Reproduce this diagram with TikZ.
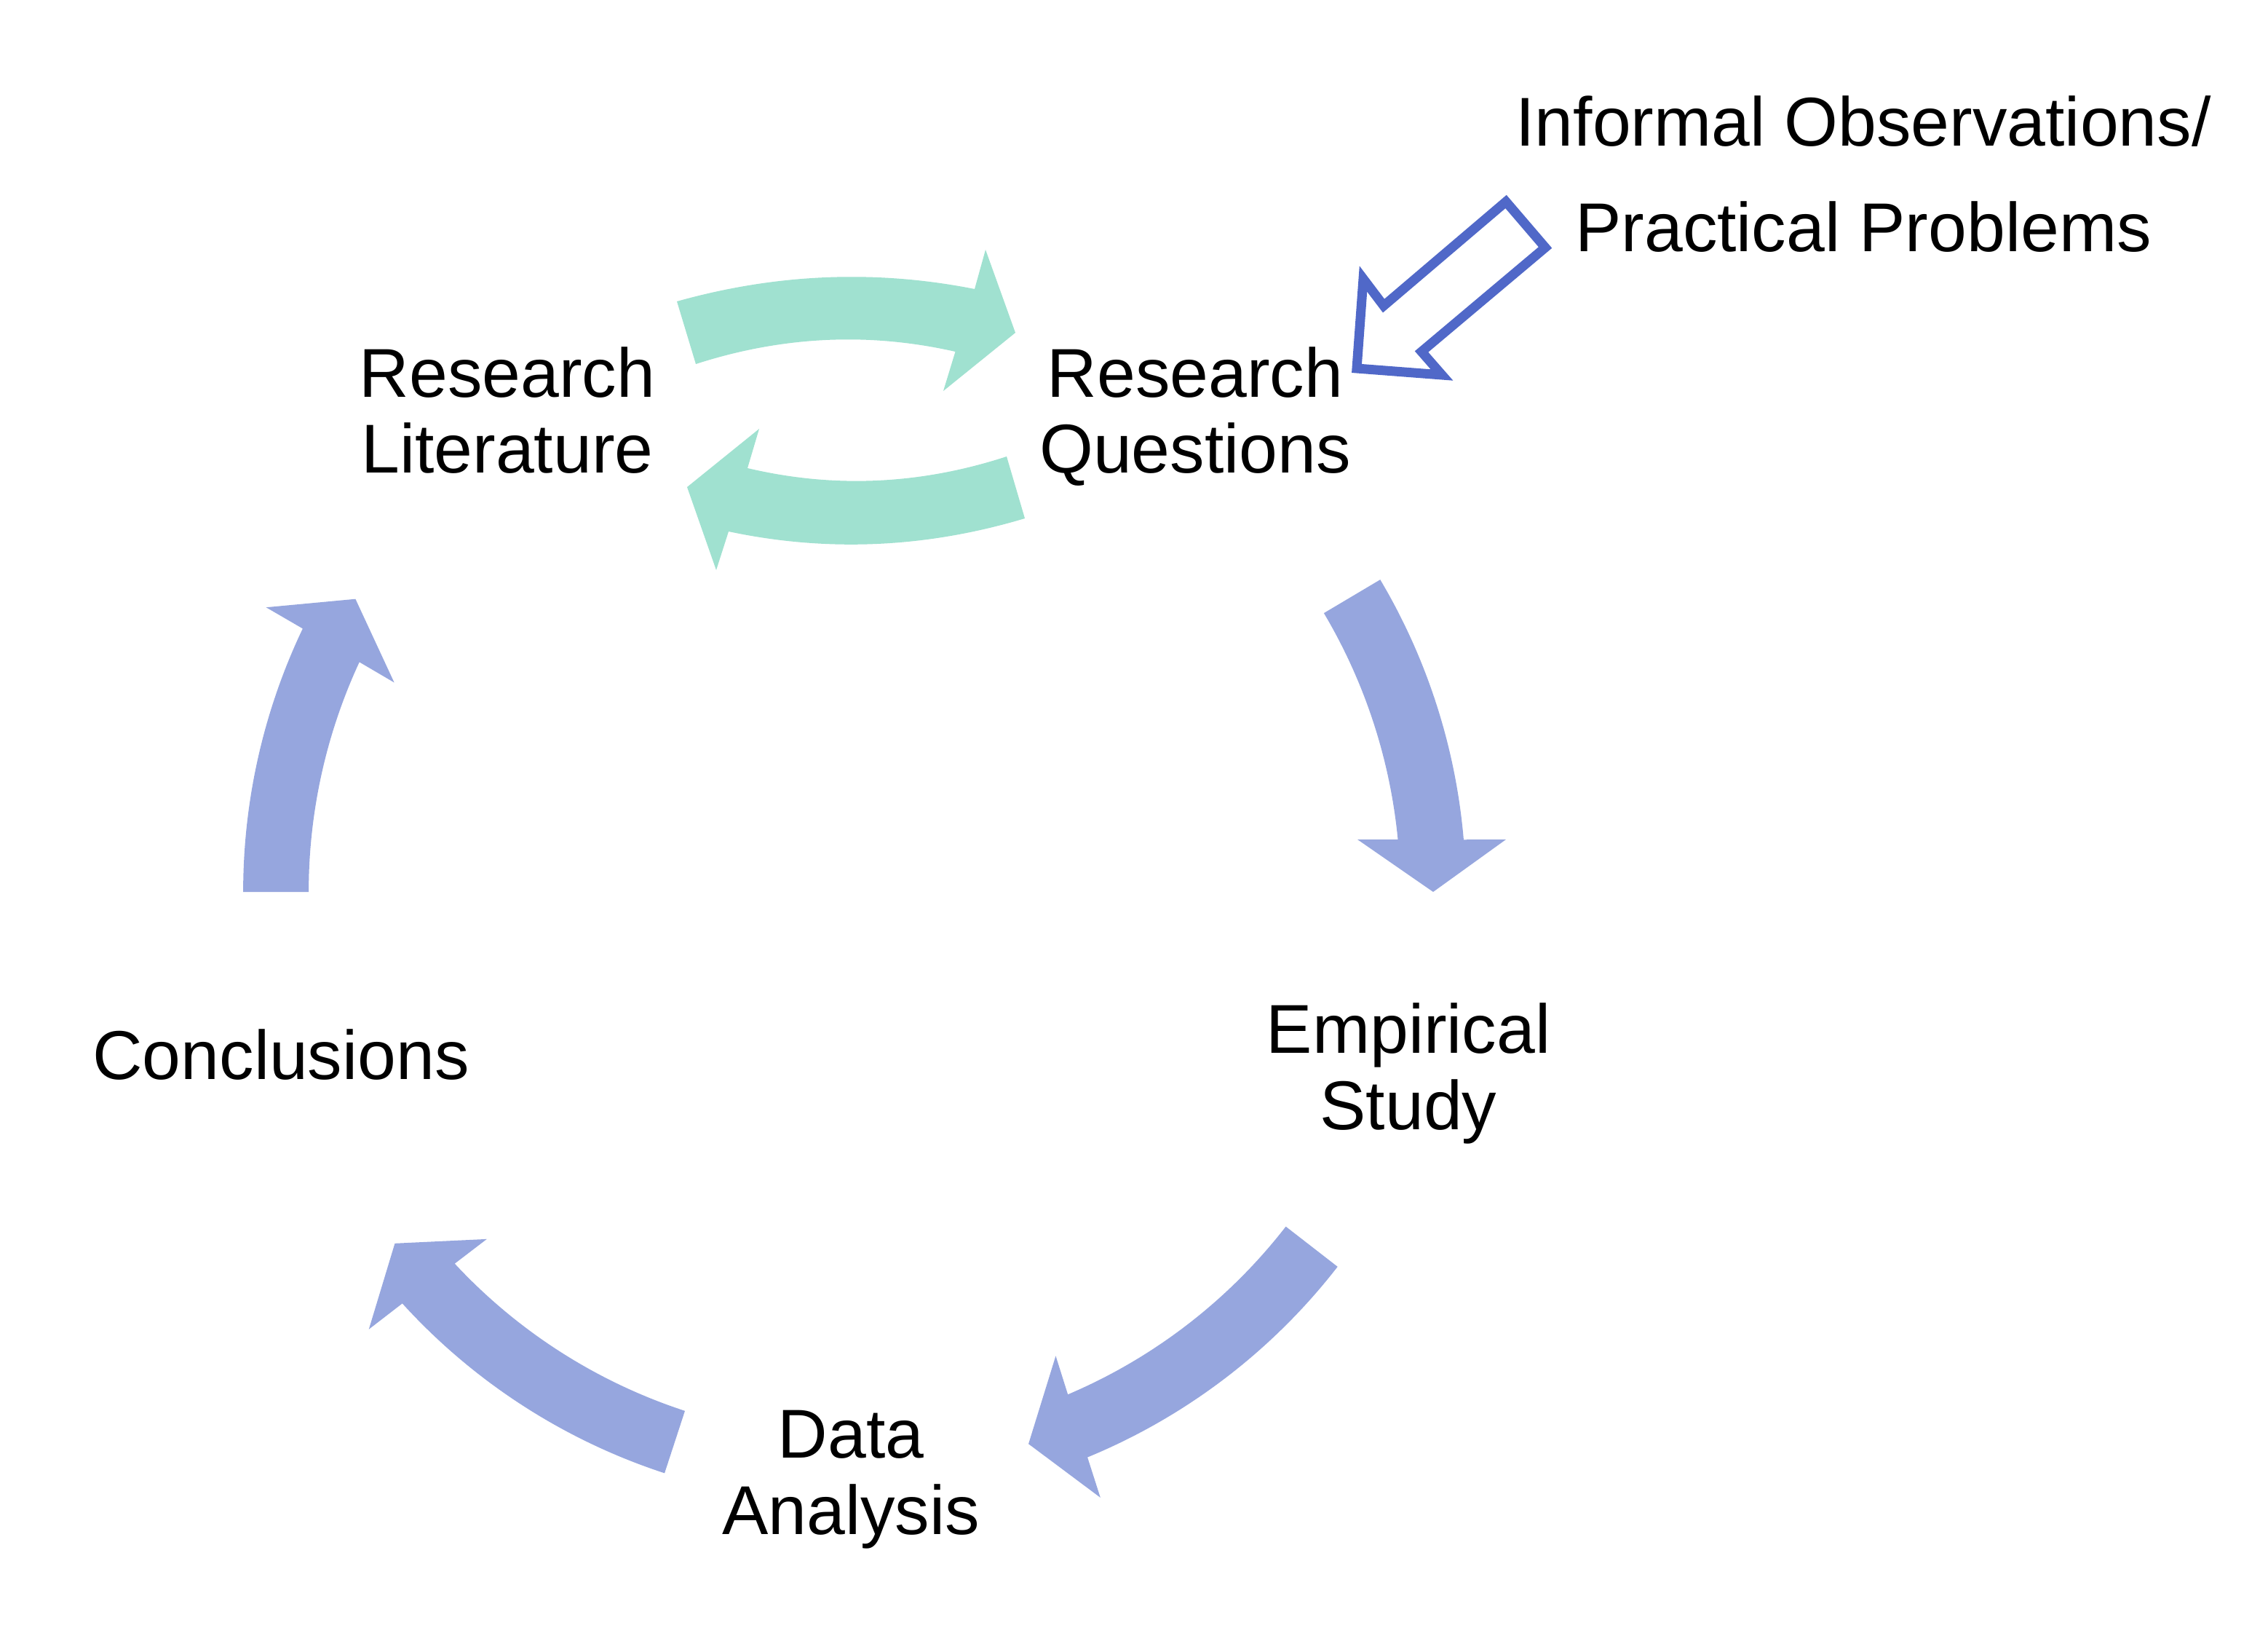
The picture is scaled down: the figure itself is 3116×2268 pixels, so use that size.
\documentclass[tikz,border=0pt]{standalone}
\usepackage{fontspec}
\setmainfont{Liberation Sans}
\definecolor{cycblue}{RGB}{150,166,222}
\definecolor{loopgreen}{RGB}{160,225,208}
\definecolor{outblue}{RGB}{80,104,200}
% #1 = tip angle, #2 = angular length of the shaft measured back from the tip
\newcommand{\cyclearrow}[2]{%
  \begin{scope}[rotate=#1]
    \fill[cyc] (#2:840) arc[start angle=#2, end angle=4.90, radius=840]
      -- (895,72) -- (795,0) -- (691,72) -- (746.5,72)
      arc[start angle=5.51, end angle=#2, radius=750] -- cycle;
  \end{scope}}
\begin{document}
\begin{tikzpicture}[x=0.01cm,y=0.01cm,
  cyc/.style={fill=cycblue},
  loop/.style={fill=loopgreen},
  label/.style={font=\fontsize{27}{29.6}\selectfont, align=center, inner sep=0pt, anchor=base},
  hollow/.style={draw=outblue, fill=white, line width=0.13cm, line join=miter}]
\useasboundingbox (0,0) rectangle (3116,2268);
\fill[white] (0,0) rectangle (3116,2268);

% main cycle arrows
\begin{scope}[shift={(1174,1043)}]
  \cyclearrow{0}{30.7}
  \cyclearrow{-72.5}{34.7}
  \cyclearrow{-142.6}{34.5}
  \cyclearrow{149.6}{30.4}
\end{scope}

% green exchange arrows
\fill[loop] (930,1854) .. controls (1066.3,1892.3) and (1202.7,1898) .. (1339,1871)
  -- (1354,1925) -- (1395,1811) -- (1296,1731) -- (1312.5,1785)
  .. controls (1193.5,1812) and (1074.7,1806.3) .. (956,1768) -- cycle;
\fill[loop] (1408,1556) .. controls (1272.3,1515.3) and (1136.7,1509.3) .. (1001,1538)
  -- (984,1485) -- (944,1599) -- (1043,1679) -- (1027,1625)
  .. controls (1145.7,1597) and (1264.3,1602.3) .. (1383,1641) -- cycle;

% hollow input arrow
\draw[hollow] (2069,1991) -- (2123,1928) -- (1953,1785) -- (1981,1753)
  -- (1864,1762) -- (1873,1885) -- (1901,1848) -- cycle;

% labels (anchor = baseline of the last line)
\node[label] (rl) at (697,1618) {Research\\Literature};
\node[label] (rq) at (1642,1618) {Research\\Questions};
\node[label] (es) at (1935,717) {Empirical\\Study};
\node[label] (da) at (1169,161) {Data\\Analysis};
\node[label] (co) at (386,786) {Conclusions};
\node[label] (io) at (2560,1922) {Informal Observations/\\[11.7pt]Practical Problems};
\end{tikzpicture}
\end{document}
